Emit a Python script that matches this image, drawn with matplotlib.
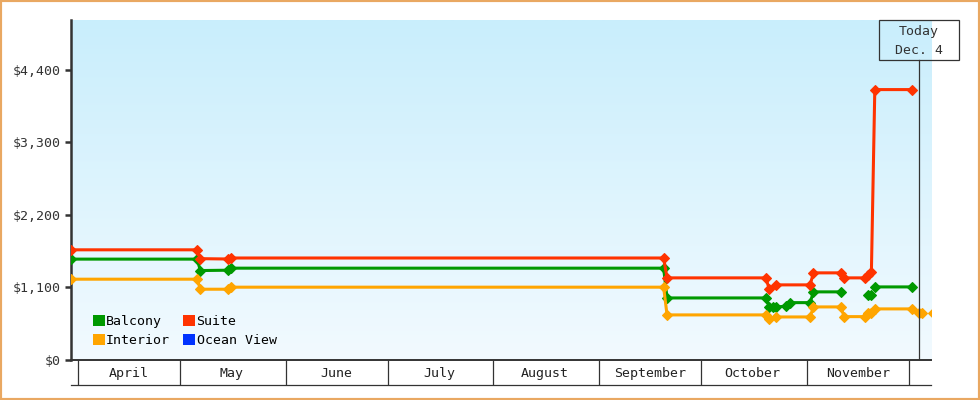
import matplotlib
matplotlib.use('Agg')
import matplotlib.pyplot as plt
import matplotlib.dates as mdates
import numpy as np
import pandas as pd
from matplotlib.patches import Patch, Rectangle
from matplotlib.colors import LinearSegmentedColormap
from matplotlib.ticker import FuncFormatter, NullFormatter
from matplotlib.transforms import blended_transform_factory

plt.rcParams['font.family'] = ['DejaVu Sans Mono', 'DejaVu Sans']

# price history per cabin type (None = no price listed)
balcony_dates = ['2013-03-30', '2013-05-06', '2013-05-07', '2013-05-15', '2013-05-16',
                 '2013-09-20', '2013-09-21', '2013-10-20', '2013-10-21', '2013-10-22',
                 '2013-10-23', '2013-10-26', '2013-10-27', '2013-11-02', '2013-11-03',
                 '2013-11-11', '2013-11-15', '2013-11-19', '2013-11-20', '2013-11-20 12:00',
                 '2013-11-21', '2013-12-02']
balcony_prices = [1528, 1528, 1355, 1360, 1391,
                  1391, 940, 940, 804, 804,
                  804, 815, 869, 869, 1032,
                  1032, None, 986, 986, None,
                  1107, 1107]

interior_dates = ['2013-03-30', '2013-05-06', '2013-05-07', '2013-05-15', '2013-05-16',
                  '2013-09-20', '2013-09-21', '2013-10-20', '2013-10-21', '2013-10-23',
                  '2013-11-02', '2013-11-03', '2013-11-11', '2013-11-12', '2013-11-18',
                  '2013-11-19', '2013-11-20', '2013-11-21', '2013-12-02', '2013-12-04',
                  '2013-12-05', '2013-12-06', '2013-12-08']
interior_prices = [1224, 1224, 1072, 1072, 1103,
                   1103, 683, 683, 622, 652,
                   652, 804, 804, 657, 657,
                   713, 713, 774, 774, 713,
                   713, None, 713]

suite_dates = ['2013-03-30', '2013-05-06', '2013-05-07', '2013-05-15', '2013-05-16',
               '2013-09-20', '2013-09-21', '2013-10-20', '2013-10-21', '2013-10-23',
               '2013-11-02', '2013-11-03', '2013-11-11', '2013-11-12', '2013-11-18',
               '2013-11-19', '2013-11-20', '2013-11-21', '2013-12-02']
suite_prices = [1669, 1669, 1535, 1530, 1545,
                1545, 1244, 1244, 1077, 1138,
                1138, 1320, 1320, 1244, 1244,
                1290, 1335, 4096, 4096]

ocean_dates = []
ocean_prices = []

series = [('Balcony', balcony_dates, balcony_prices, '#009900'),
          ('Interior', interior_dates, interior_prices, '#ffa500'),
          ('Suite', suite_dates, suite_prices, '#ff3300'),
          ('Ocean View', ocean_dates, ocean_prices, '#0033ff')]

y_ticks = [0, 1100, 2200, 3300, 4400]
today = pd.Timestamp('2013-12-04')
today_text = ['Today', 'Dec. 4']
x_start = pd.Timestamp('2013-03-30')
x_end = pd.Timestamp('2013-12-07 12:00')

fig = plt.figure(figsize=(9.8, 4), dpi=100)
ax = fig.add_axes([71/980, 40/400, 860/980, 340/400])

# gradient background
grad = np.linspace(0, 1, 256).reshape(-1, 1)
cmap = LinearSegmentedColormap.from_list('bg', ['#f2faff', '#c9eefc'])
ax.imshow(grad, extent=[0, 1, 0, 1], transform=ax.transAxes, origin='lower',
          aspect='auto', cmap=cmap, zorder=0)

for name, d, p, c in series:
    if not d:
        continue
    xs = pd.to_datetime(d, format='ISO8601')
    ys = np.array([np.nan if v is None else v for v in p], dtype=float)
    ax.plot(xs, ys, color=c, lw=2.2, marker='D', ms=5, mec=c, mew=0.8,
            solid_capstyle='butt', zorder=3)

ax.set_xlim(x_start, x_end)
ax.set_ylim(0, 5150)

# y axis
ax.set_yticks(y_ticks)
ax.yaxis.set_major_formatter(FuncFormatter(lambda v, pos: '${:,.0f}'.format(v)))
ax.tick_params(axis='y', length=4.5, width=1.8, color='#333333', labelcolor='#333333',
               labelsize=9.5, pad=3)

# month boxes along the x axis
ax.xaxis.set_major_locator(mdates.MonthLocator())
ax.xaxis.set_major_formatter(NullFormatter())
ax.xaxis.set_minor_locator(mdates.MonthLocator(bymonthday=16))
ax.xaxis.set_minor_formatter(mdates.DateFormatter('%B'))
ax.tick_params(axis='x', which='major', length=18, width=0.9, color='#333333')
ax.tick_params(axis='x', which='minor', length=0, pad=5, labelsize=9.5, labelcolor='#222222')
ax.plot([0, 1], [-25/340, -25/340], transform=ax.transAxes, color='#333333',
        lw=0.9, clip_on=False)

for s in ['top', 'right']:
    ax.spines[s].set_visible(False)
ax.spines['left'].set_linewidth(1.8)
ax.spines['left'].set_color('#333333')
ax.spines['bottom'].set_linewidth(1.4)
ax.spines['bottom'].set_color('#333333')

# today marker
trans = blended_transform_factory(ax.transData, ax.transAxes)
tnum = mdates.date2num(today)
box_h = 40/340
half_w = 40/3.406
ax.plot([today, today], [0, 1 - box_h], transform=trans, color='#333333', lw=0.9, zorder=4)
ax.add_patch(Rectangle((tnum - half_w, 1 - box_h), 2*half_w, box_h, transform=trans,
                       fill=False, ec='#333333', lw=0.9, clip_on=False, zorder=5))
ax.text(today, 1 - 12/340, today_text[0], transform=trans, ha='center', va='center',
        fontsize=9.5, color='#333333')
ax.text(today, 1 - 30/340, today_text[1], transform=trans, ha='center', va='center',
        fontsize=9.5, color='#333333')

# legend
handles = [Patch(facecolor=c, edgecolor='none', label=n) for n, _, _, c in series]
ax.legend(handles=handles, loc='lower left', bbox_to_anchor=(22/860, 13/340), ncol=2,
          frameon=False, fontsize=9.5, handlelength=0.9, handleheight=0.9,
          handletextpad=0.1, columnspacing=1.0, labelspacing=0.45,
          borderaxespad=0, borderpad=0)

# outer border
fig.add_artist(Rectangle((0, 0), 1, 1, transform=fig.transFigure, fill=False,
                         ec='#e9a862', lw=3))

fig.savefig('out.png', dpi=100)
